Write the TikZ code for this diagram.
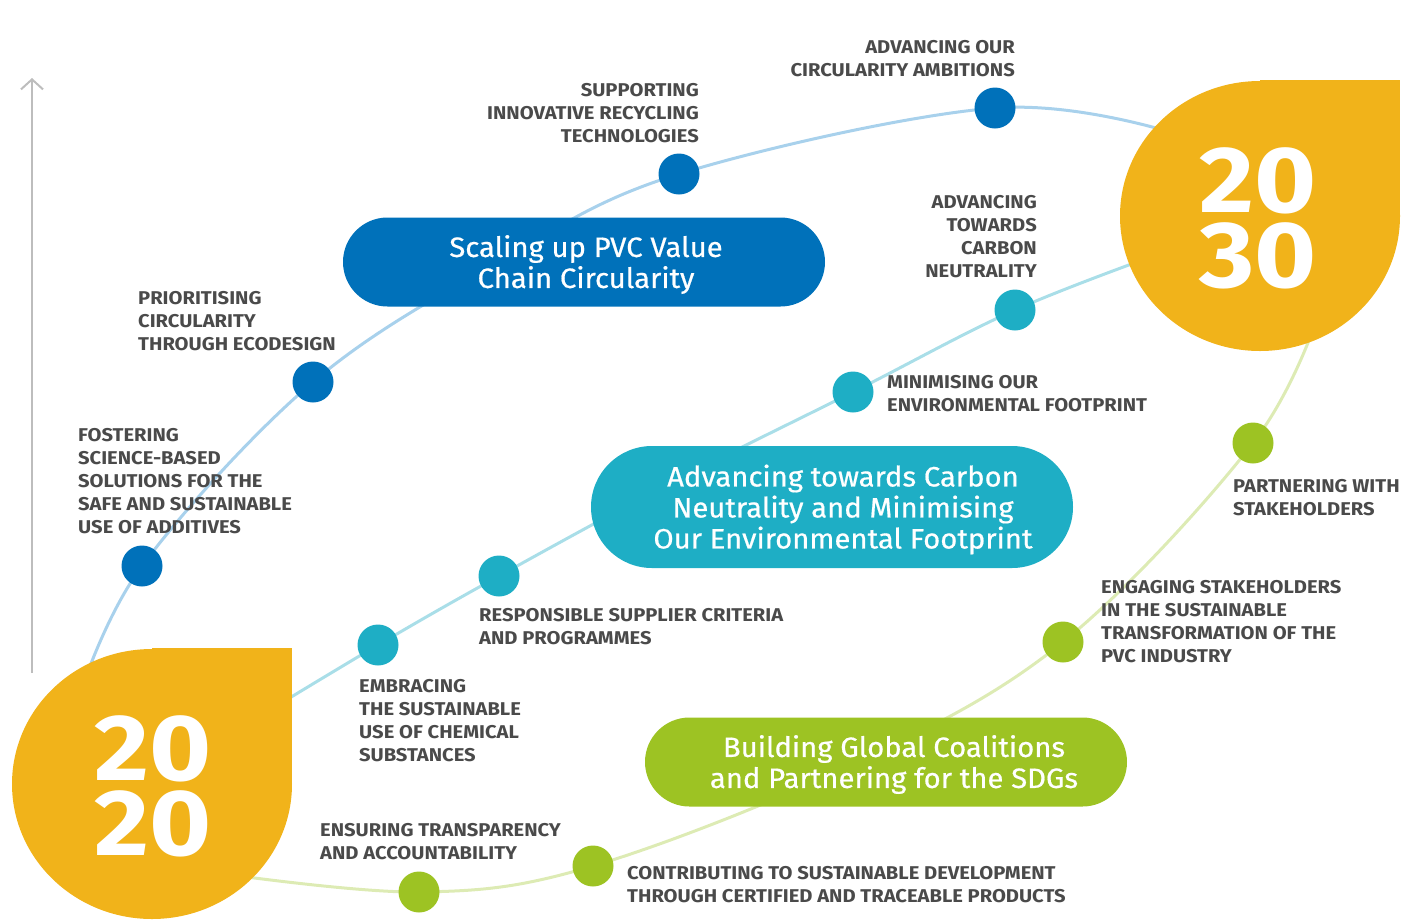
\documentclass[tikz,border=0pt]{standalone}
\usepackage{fontspec}
\setmainfont{Fira Sans}
\newfontfamily\labelfont[FakeStretch=1.09]{Fira Sans}
\newfontfamily\goalfont[FakeStretch=1.045,FakeBold=0.6]{Fira Sans}
\newfontfamily\yearfont[FakeStretch=1.13]{Fira Sans}
\usetikzlibrary{arrows.meta,shapes.misc,backgrounds}

\definecolor{pvcblue}{HTML}{0071BA}
\definecolor{pvcteal}{HTML}{1EAEC5}
\definecolor{pvcgreen}{HTML}{9DC323}
\definecolor{pvcorange}{HTML}{F1B31A}
\definecolor{lineblue}{HTML}{A8D1EC}
\definecolor{lineteal}{HTML}{A9DEE8}
\definecolor{linegreen}{HTML}{DDEBB4}
\definecolor{labelgray}{HTML}{4A4A4A}
\definecolor{axisgray}{HTML}{BDBDBD}

\begin{document}
\begin{tikzpicture}[x=1pt,y=-1pt,
  dot/.style={circle,fill=#1,minimum size=41pt,inner sep=0pt},
  goal/.style={rounded rectangle,fill=#1,minimum width=482pt,inner sep=0pt},
  goaltext/.style={text=white,inner sep=0pt,align=center,font=\goalfont\fontsize{28}{31}\selectfont},
  lbl/.style={inner sep=0pt,text=labelgray,font=\labelfont\bfseries\fontsize{18.5}{23}\selectfont},
  lblL/.style={lbl,anchor=north west,align=left},
  lblR/.style={lbl,anchor=north east,align=right},
  strand/.style={line width=3pt,draw=#1},
  year/.style={text=white,inner sep=0pt,anchor=base,font=\yearfont\bfseries\fontsize{94}{94}\selectfont}]
\useasboundingbox (0,0) rectangle (1401,922);

% time axis
\coordinate (axbot) at (32,673);
\coordinate (axtop) at (32,78);
\draw[axisgray,line width=2pt,-{Straight Barb[length=10pt,width=22pt,line width=2pt]}] (axbot) -- (axtop);

% dots on the three strands
\node[dot=pvcblue] (b1) at (142,566) {};
\node[dot=pvcblue] (b2) at (313,382) {};
\node[dot=pvcblue] (b3) at (679,174) {};
\node[dot=pvcblue] (b4) at (995,108) {};
\node[dot=pvcteal] (c1) at (378,645) {};
\node[dot=pvcteal] (c2) at (499,576) {};
\node[dot=pvcteal] (c3) at (853,392) {};
\node[dot=pvcteal] (c4) at (1015,310) {};
\node[dot=pvcgreen] (g1) at (419,892) {};
\node[dot=pvcgreen] (g2) at (593,866) {};
\node[dot=pvcgreen] (g3) at (1063,642) {};
\node[dot=pvcgreen] (g4) at (1253,443) {};

% hidden ends and bends
\coordinate (b0) at (78,700);
\coordinate (bm) at (500,261);
\coordinate (b5) at (1180,135);
\coordinate (c0) at (250,722);
\coordinate (cm) at (665,486);
\coordinate (c5) at (1170,250);
\coordinate (g0) at (210,872);
\coordinate (gm) at (858,762);
\coordinate (g5) at (1320,310);

\begin{scope}[on background layer]
\draw[strand=lineblue] plot[smooth,tension=0.6] coordinates {(b0) (b1) (b2) (bm) (b3) (b4) (b5)};
\draw[strand=lineteal] plot[smooth,tension=0.6] coordinates {(c0) (c1) (c2) (cm) (c3) (c4) (c5)};
\draw[strand=linegreen] plot[smooth,tension=0.6] coordinates {(g0) (g1) (g2) (gm) (g3) (g4) (g5)};
\end{scope}

% year drops
\coordinate (start) at (152,784);
\coordinate (goal) at (1260,216);
\fill[pvcorange] (start) ellipse [x radius=140,y radius=135];
\fill[pvcorange] (start) rectangle ++(140,-136);
\fill[pvcorange] (goal) ellipse [x radius=140,y radius=135];
\fill[pvcorange] (goal) rectangle ++(140,-136);
\node[year] (y2020a) at (153,780) {20};
\node[year] (y2020b) at (153,855) {20};
\node[year] (y2030a) at (1258,212) {20};
\node[year] (y2030b) at (1258,287) {30};

% goal boxes
\node[goal=pvcblue,minimum height=89pt] (circ) at (584,262) {};
\node[goal=pvcteal,minimum height=122pt] (carb) at (832,507) {};
\node[goal=pvcgreen,minimum height=89pt] (sdg) at (886,762) {};
\node[goaltext] (circ-t) at ([xshift=2pt,yshift=-2.5pt]circ.center) {Scaling up PVC Value\\Chain Circularity};
\node[goaltext] (carb-t) at ([xshift=11pt,yshift=-2.5pt]carb.center) {Advancing towards Carbon\\Neutrality and Minimising\\Our Environmental Footprint};
\node[goaltext] (sdg-t) at ([xshift=8pt,yshift=-2.5pt]sdg.center) {Building Global Coalitions\\and Partnering for the SDGs};

% labels
\node[lblR] (t-amb) at (1015,40.5) {ADVANCING OUR\\CIRCULARITY AMBITIONS};
\node[lblR] (t-rec) at (699,83.5) {SUPPORTING\\INNOVATIVE RECYCLING\\TECHNOLOGIES};
\node[lblL] (t-eco) at (138,291.5) {PRIORITISING\\CIRCULARITY\\THROUGH ECODESIGN};
\node[lblL] (t-add) at (78,428.5) {FOSTERING\\SCIENCE-BASED\\SOLUTIONS FOR THE\\SAFE AND SUSTAINABLE\\USE OF ADDITIVES};
\node[lblR] (t-car) at (1037,195.5) {ADVANCING\\TOWARDS\\CARBON\\NEUTRALITY};
\node[lblL] (t-env) at (887,375.5) {MINIMISING OUR\\ENVIRONMENTAL FOOTPRINT};
\node[lblL] (t-sup) at (479,608.5) {RESPONSIBLE SUPPLIER CRITERIA\\AND PROGRAMMES};
\node[lblL] (t-chem) at (359,679.5) {EMBRACING\\THE SUSTAINABLE\\USE OF CHEMICAL\\SUBSTANCES};
\node[lblL] (t-par) at (1233,479.5) {PARTNERING WITH\\STAKEHOLDERS};
\node[lblL] (t-eng) at (1101,580.5) {ENGAGING STAKEHOLDERS\\IN THE SUSTAINABLE\\TRANSFORMATION OF THE\\PVC INDUSTRY};
\node[lblL] (t-tra) at (320,823.5) {ENSURING TRANSPARENCY\\AND ACCOUNTABILITY};
\node[lblL] (t-dev) at (627,866.5) {CONTRIBUTING TO SUSTAINABLE DEVELOPMENT\\THROUGH CERTIFIED AND TRACEABLE PRODUCTS};
\end{tikzpicture}
\end{document}
